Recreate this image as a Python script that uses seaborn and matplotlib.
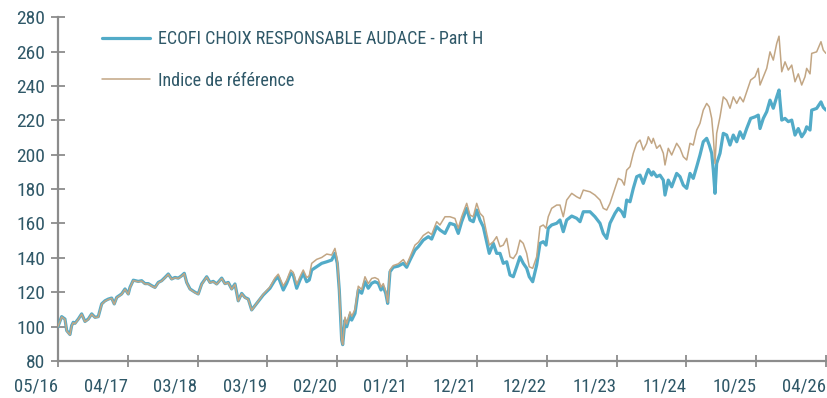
import matplotlib
matplotlib.use("Agg")
import matplotlib.pyplot as plt
import seaborn as sns
import pandas as pd
from matplotlib.lines import Line2D

# Position along the axis, in units of one tick interval (05/16 = 0 ... 04/26 = 11)
period = [
    0.000, 0.053, 0.100, 0.125, 0.172, 0.196, 0.219, 0.243, 0.291, 0.339, 0.387, 0.434,
    0.483, 0.530, 0.577, 0.626, 0.673, 0.720, 0.769, 0.806, 0.841, 0.912, 0.960, 1.007,
    1.031, 1.079, 1.150, 1.199, 1.246, 1.293, 1.342, 1.389, 1.437, 1.485, 1.533, 1.580,
    1.628, 1.676, 1.723, 1.772, 1.809, 1.843, 1.891, 1.962, 2.009, 2.058, 2.130, 2.177,
    2.224, 2.273, 2.345, 2.392, 2.439, 2.488, 2.535, 2.582, 2.631, 2.678, 2.726, 2.774,
    2.822, 2.940, 3.036, 3.108, 3.155, 3.227, 3.276, 3.333, 3.370, 3.419, 3.466, 3.513,
    3.562, 3.599, 3.634, 3.705, 3.777, 3.849, 3.920, 3.967, 4.000, 4.029, 4.063, 4.078,
    4.111, 4.135, 4.182, 4.207, 4.254, 4.301, 4.350, 4.397, 4.444, 4.493, 4.540, 4.588,
    4.626, 4.659, 4.694, 4.722, 4.755, 4.802, 4.874, 4.946, 4.994, 5.042, 5.113, 5.161,
    5.232, 5.304, 5.352, 5.424, 5.471, 5.543, 5.614, 5.686, 5.733, 5.782, 5.854, 5.901,
    5.948, 5.997, 6.044, 6.091, 6.140, 6.177, 6.235, 6.283, 6.331, 6.378, 6.427, 6.474,
    6.521, 6.570, 6.617, 6.664, 6.713, 6.750, 6.799, 6.856, 6.904, 6.951, 6.990, 7.022,
    7.071, 7.143, 7.190, 7.237, 7.286, 7.358, 7.429, 7.477, 7.524, 7.620, 7.691, 7.763,
    7.810, 7.859, 7.906, 7.978, 8.025, 8.074, 8.111, 8.145, 8.193, 8.240, 8.289, 8.336,
    8.383, 8.432, 8.455, 8.503, 8.526, 8.575, 8.622, 8.670, 8.694, 8.741, 8.790, 8.861,
    8.909, 8.956, 9.005, 9.052, 9.099, 9.148, 9.195, 9.242, 9.291, 9.328, 9.363, 9.386,
    9.410, 9.434, 9.482, 9.529, 9.577, 9.625, 9.672, 9.721, 9.768, 9.815, 9.864, 9.921,
    9.983, 10.030, 10.055, 10.102, 10.151, 10.198, 10.245, 10.294, 10.327, 10.366, 10.413, 10.460,
    10.509, 10.556, 10.603, 10.652, 10.699, 10.723, 10.771, 10.795, 10.866, 10.928, 10.961, 11.000,
]

fund = [
    100.0, 105.8, 104.4, 97.7, 95.4, 100.6, 102.5, 101.9, 104.4, 107.4, 103.0, 104.4,
    107.4, 105.4, 105.8, 113.2, 115.0, 116.0, 116.6, 113.2, 117.0, 119.0, 121.9, 119.0,
    122.8, 127.0, 126.3, 126.7, 125.0, 125.0, 123.8, 122.8, 125.7, 126.7, 128.6, 130.6,
    127.7, 128.6, 128.2, 129.6, 131.0, 125.7, 121.9, 120.0, 119.0, 124.8, 129.0, 125.7,
    126.3, 124.8, 128.2, 125.0, 125.7, 121.9, 124.8, 115.0, 119.3, 117.0, 116.0, 109.7,
    112.2, 118.4, 122.3, 127.1, 129.0, 121.3, 125.2, 131.0, 130.0, 122.3, 127.1, 131.0,
    126.1, 127.1, 132.9, 134.8, 136.8, 137.7, 138.7, 142.6, 136.8, 121.3, 92.2, 89.5,
    103.8, 99.9, 106.7, 103.8, 107.7, 121.3, 119.4, 126.1, 122.3, 125.2, 126.1, 125.2,
    121.3, 123.2, 119.4, 113.5, 131.9, 134.5, 135.2, 136.8, 134.5, 138.7, 144.5, 146.5,
    150.3, 152.3, 150.9, 158.1, 156.2, 154.2, 160.1, 159.1, 154.2, 161.0, 168.8, 162.0,
    161.0, 167.8, 162.0, 158.1, 149.4, 142.6, 148.4, 142.6, 142.6, 136.8, 137.7, 130.0,
    129.0, 134.8, 140.6, 136.8, 133.9, 129.0, 126.1, 135.8, 148.4, 149.4, 147.4, 157.2,
    159.1, 160.1, 162.0, 155.2, 162.0, 164.3, 163.0, 161.0, 166.8, 166.8, 163.9, 160.1,
    154.2, 151.3, 160.1, 165.9, 168.8, 166.8, 163.9, 173.6, 172.6, 180.4, 187.2, 188.1,
    183.3, 189.1, 191.4, 188.1, 190.0, 187.2, 188.1, 185.2, 176.5, 185.2, 181.3, 189.1,
    187.2, 182.3, 180.4, 189.1, 186.2, 193.0, 199.8, 207.5, 209.5, 205.6, 200.8, 191.0,
    177.5, 194.9, 200.8, 212.4, 211.4, 205.6, 211.4, 207.5, 213.3, 209.5, 215.2, 221.1,
    222.0, 223.0, 215.2, 221.1, 225.0, 231.7, 227.0, 233.6, 237.6, 220.1, 221.1, 219.2,
    220.1, 211.4, 215.2, 210.4, 213.3, 216.2, 214.3, 225.9, 226.9, 230.7, 227.5, 225.9,
]

benchmark = [
    100.0, 105.6, 104.2, 97.5, 95.2, 100.4, 102.3, 101.7, 104.2, 107.2, 102.8, 104.2,
    107.2, 105.2, 105.6, 113.0, 114.8, 115.8, 116.4, 113.0, 116.8, 118.8, 121.7, 118.8,
    122.6, 126.8, 126.1, 126.5, 124.8, 124.8, 123.6, 122.6, 125.5, 126.5, 128.4, 130.4,
    127.5, 128.4, 128.0, 129.4, 130.8, 125.5, 121.7, 119.8, 118.8, 124.6, 128.8, 125.5,
    126.1, 124.6, 128.0, 124.8, 125.5, 121.7, 124.6, 114.8, 119.1, 116.8, 115.8, 109.5,
    112.2, 118.8, 123.0, 128.3, 130.5, 123.6, 127.0, 132.9, 131.5, 124.5, 129.0, 132.9,
    128.5, 129.5, 136.8, 139.1, 140.2, 142.2, 141.6, 145.5, 139.0, 122.0, 92.0, 89.5,
    105.5, 101.5, 108.6, 106.0, 110.0, 123.5, 121.5, 129.0, 125.0, 128.0, 128.5, 127.5,
    123.0, 125.0, 120.5, 114.0, 133.0, 135.5, 136.5, 139.0, 136.0, 140.5, 147.4, 149.0,
    153.0, 155.0, 153.5, 161.0, 159.1, 163.9, 163.9, 162.9, 157.2, 163.9, 171.7, 164.9,
    163.9, 171.7, 165.9, 163.9, 154.2, 147.4, 149.4, 152.3, 146.5, 147.4, 151.3, 140.6,
    139.6, 142.6, 150.3, 148.4, 142.6, 134.8, 133.9, 140.6, 158.1, 159.1, 157.2, 163.9,
    168.8, 170.7, 170.7, 163.9, 173.6, 177.5, 175.5, 174.5, 179.4, 178.4, 176.5, 173.6,
    168.8, 167.8, 171.7, 180.4, 186.2, 185.2, 182.3, 191.0, 193.0, 200.8, 206.6, 208.5,
    202.7, 206.6, 210.4, 206.6, 209.5, 203.7, 205.6, 200.8, 194.0, 203.7, 199.8, 206.6,
    203.7, 198.8, 196.9, 206.6, 205.6, 214.3, 218.2, 225.9, 229.8, 227.8, 221.1, 210.4,
    194.9, 212.4, 222.0, 233.6, 231.7, 227.0, 233.6, 229.8, 233.6, 230.7, 236.6, 243.4,
    245.3, 250.2, 240.5, 245.3, 250.2, 259.8, 255.0, 264.7, 268.9, 248.2, 254.0, 249.2,
    252.1, 242.4, 247.0, 240.5, 245.3, 250.2, 247.0, 258.9, 259.8, 265.7, 260.8, 258.9,
]

tick_labels = ["05/16", "04/17", "03/18", "03/19", "02/20", "01/21",
               "12/21", "12/22", "11/23", "11/24", "10/25", "04/26"]
y_ticks = [80, 100, 120, 140, 160, 180, 200, 220, 240, 260, 280]

series_names = ["ECOFI CHOIX RESPONSABLE AUDACE - Part H", "Indice de référence"]
colors = ["#52ABC8", "#C2A684"]
widths = [2.3, 1.1]

sns.set_theme(style="white")
plt.rcParams["font.family"] = ["Roboto Condensed", "Roboto", "DejaVu Sans"]

text_color = "#2F5868"
axis_gray = "#8C8C8C"

df = pd.DataFrame({
    "period": period * 2,
    "value": fund + benchmark,
    "series": [series_names[0]] * len(fund) + [series_names[1]] * len(benchmark),
})

fig = plt.figure(figsize=(8.27, 3.98), dpi=100)
ax = fig.add_axes([0.0701, 0.093, 0.9287, 0.864])

for name, col, lw in zip(series_names, colors, widths):
    sns.lineplot(data=df[df["series"] == name], x="period", y="value",
                 color=col, linewidth=lw, ax=ax, legend=False)

ax.set_xlim(0, 11)
ax.set_ylim(80, 280)
ax.set_xticks(range(len(tick_labels)))
ax.set_xticklabels(tick_labels, ha="right")
ax.set_yticks(y_ticks)
ax.set_xlabel("")
ax.set_ylabel("")

for side in ["top", "right"]:
    ax.spines[side].set_visible(False)
for side in ["left", "bottom"]:
    ax.spines[side].set_color(axis_gray)
    ax.spines[side].set_linewidth(1.6)
    ax.spines[side].set_zorder(0.5)

ax.tick_params(axis="y", direction="inout", length=10, width=1.3, color=axis_gray,
               labelsize=14, labelcolor=text_color, pad=4, left=True)
ax.tick_params(axis="x", direction="inout", length=9, width=1.3, color=axis_gray,
               labelsize=13.5, labelcolor=text_color, pad=7.5, bottom=True)

handles = [Line2D([0], [0], color=c, linewidth=lw) for c, lw in zip(colors, widths)]
leg = ax.legend(handles, series_names, loc="upper left", bbox_to_anchor=(0.057, 0.962),
                frameon=False, fontsize=13, handlelength=2.65, handletextpad=0.45,
                labelspacing=1.3, borderpad=0, borderaxespad=0)
for t in leg.get_texts():
    t.set_color(text_color)

fig.savefig("out.png", dpi=100)
